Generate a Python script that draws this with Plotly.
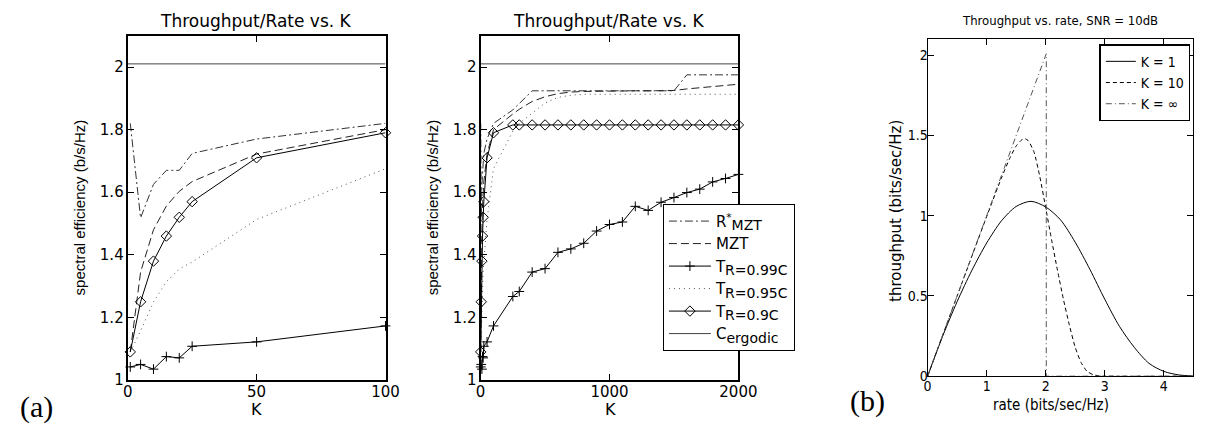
import plotly.graph_objects as go

W, H = 1218, 432

# ---------------- data: panel (a) ----------------
K_all = [1, 5, 10, 15, 20, 25, 50, 100, 250, 300, 400, 500, 600, 700, 800, 900,
         1000, 1100, 1200, 1300, 1400, 1500, 1600, 1700, 1800, 1900, 2000]
R_star_mzt = [1.82, 1.518, 1.625, 1.67, 1.67, 1.724, 1.77, 1.82, 1.863, 1.884,
              1.924, 1.924, 1.924, 1.924, 1.924, 1.924, 1.924, 1.924, 1.924, 1.924,
              1.924, 1.924, 1.975, 1.975, 1.975, 1.975, 1.975]
mzt = [1.09, 1.345, 1.48, 1.556, 1.603, 1.634, 1.722, 1.80, 1.85, 1.865,
       1.89, 1.905, 1.915, 1.92, 1.922, 1.923, 1.924, 1.924, 1.924, 1.924,
       1.924, 1.925, 1.93, 1.934, 1.938, 1.942, 1.945]
t_099 = [1.042, 1.05, 1.035, 1.075, 1.071, 1.108, 1.122, 1.173, 1.267, 1.283,
         1.345, 1.356, 1.408, 1.419, 1.437, 1.476, 1.497, 1.505, 1.555, 1.542,
         1.568, 1.583, 1.599, 1.61, 1.633, 1.644, 1.657]
t_095 = [1.09, 1.157, 1.25, 1.314, 1.355, 1.377, 1.513, 1.675, 1.795, 1.82,
         1.852, 1.885, 1.903, 1.91, 1.913, 1.913, 1.913, 1.913, 1.913, 1.913,
         1.913, 1.913, 1.913, 1.913, 1.913, 1.913, 1.913]
t_090 = [1.09, 1.25, 1.38, 1.46, 1.52, 1.57, 1.71, 1.79, 1.815, 1.815,
         1.815, 1.815, 1.815, 1.815, 1.815, 1.815, 1.815, 1.815, 1.815, 1.815,
         1.815, 1.815, 1.815, 1.815, 1.815, 1.815, 1.815]
C_ergodic = 2.01
N_LEFT = 8          # left panel shows K = 1 .. 100
K_MAX_LEFT = 100
K_MAX_RIGHT = 2000

SUB = "<sub><span style='font-size:14px'>{}</span></sub>"
legend_names = ["R<sup>*</sup>" + SUB.format("MZT"), "MZT",
                "T" + SUB.format("R=0.99C"), "T" + SUB.format("R=0.95C"),
                "T" + SUB.format("R=0.9C"), "C" + SUB.format("ergodic")]

# ---------------- data: panel (b) ----------------
rate_k1 = [0, 0.25, 0.5, 0.75, 1.0, 1.25, 1.5, 1.75, 2.0, 2.25, 2.5, 2.75,
           3.0, 3.25, 3.5, 3.75, 4.0, 4.25, 4.5]
thr_k1 = [0, 0.245, 0.465, 0.66, 0.83, 0.968, 1.058, 1.09, 1.055, 0.975, 0.835,
          0.665, 0.48, 0.31, 0.18, 0.08, 0.03, 0.008, 0.001]
rate_k10 = [0, 0.5, 1.0, 1.25, 1.4, 1.5, 1.6, 1.65, 1.7, 1.8, 1.9, 2.0, 2.1,
            2.2, 2.3, 2.4, 2.5, 2.6, 2.7, 2.8, 2.9, 3.0, 4.5]
thr_k10 = [0, 0.5, 0.995, 1.235, 1.365, 1.435, 1.475, 1.48, 1.47, 1.40, 1.245,
           1.05, 0.85, 0.66, 0.48, 0.32, 0.18, 0.085, 0.03, 0.01, 0.002, 0, 0]
rate_kinf = [0, 2.01, 2.01, 4.5]
thr_kinf = [0, 2.01, 0, 0]
legend_b = ["K = 1", "K = 10", "K = \u221e"]

# ---------------- styling helpers ----------------
FA = "DejaVu Sans"
FA_ROT = "Liberation Sans, Arial"
FB = "Liberation Sans Narrow, Arial Narrow, DejaVu Sans Condensed, Liberation Sans"
BLK = "black"

def px_x(p):
    return p / W

def px_y(p):
    return 1 - p / H

fig = go.Figure()

def add_panel_a(xa, ya, n, kmax, show):
    k = K_all[:n]
    styles = [
        dict(y=R_star_mzt[:n], dash="8px,3px,2px,3px", color="#333", marker=None),
        dict(y=mzt[:n], dash="8px,4px", color="#222", marker=None),
        dict(y=t_099[:n], dash="solid", color=BLK,
             marker=dict(symbol="cross-thin", size=7, line=dict(width=1, color=BLK))),
        dict(y=t_095[:n], dash="1px,4px", color="#555", marker=None),
        dict(y=t_090[:n], dash="solid", color=BLK,
             marker=dict(symbol="diamond-open", size=8, color=BLK, line=dict(width=1, color=BLK))),
    ]
    for name, s in zip(legend_names[:5], styles):
        mode = "lines+markers" if s["marker"] else "lines"
        tr = go.Scatter(x=k, y=s["y"], mode=mode, name=name, xaxis=xa, yaxis=ya,
                        line=dict(color=s["color"], width=1, dash=s["dash"]),
                        showlegend=show, cliponaxis=False, legend="legend")
        if s["marker"]:
            tr.marker = s["marker"]
        fig.add_trace(tr)
    fig.add_trace(go.Scatter(x=[0, kmax], y=[C_ergodic, C_ergodic], mode="lines",
                             name=legend_names[5], xaxis=xa, yaxis=ya,
                             line=dict(color="#444", width=1), showlegend=show,
                             legend="legend"))

add_panel_a("x", "y", N_LEFT, K_MAX_LEFT, False)
add_panel_a("x2", "y2", len(K_all), K_MAX_RIGHT, True)

fig.add_trace(go.Scatter(x=rate_k1, y=thr_k1, mode="lines", name=legend_b[0],
                         xaxis="x3", yaxis="y3", line=dict(color=BLK, width=1, shape="spline", smoothing=0.8),
                         legend="legend2"))
fig.add_trace(go.Scatter(x=rate_k10, y=thr_k10, mode="lines", name=legend_b[1],
                         xaxis="x3", yaxis="y3", line=dict(color=BLK, width=1, dash="4px,3px", shape="spline", smoothing=0.6),
                         legend="legend2"))
fig.add_trace(go.Scatter(x=rate_kinf, y=thr_kinf, mode="lines", name=legend_b[2],
                         xaxis="x3", yaxis="y3", line=dict(color="#555", width=1, dash="6px,3px,1px,3px"),
                         legend="legend2"))

ax_a = dict(showline=True, linecolor=BLK, linewidth=2, mirror="ticks", ticks="inside",
            ticklen=6, tickwidth=1, tickcolor=BLK, showgrid=False, zeroline=False,
            tickfont=dict(family=FA, size=15, color=BLK))
ax_b = dict(showline=True, linecolor=BLK, linewidth=1.3, mirror="ticks", ticks="inside",
            ticklen=6, tickwidth=1, tickcolor=BLK, showgrid=False, zeroline=False,
            tickfont=dict(family=FB, size=14, color=BLK))

ydom_a = [px_y(380), px_y(28.3)]
ydom_b = [px_y(376), px_y(32)]

fig.update_layout(
    width=W, height=H, margin=dict(l=0, r=0, t=0, b=0),
    paper_bgcolor="white", plot_bgcolor="white",
    xaxis=dict(ax_a, domain=[px_x(117), px_x(380)], range=[0, 100], tickvals=[0, 50, 100],
               anchor="y", ticklabelstandoff=-3),
    yaxis=dict(ax_a, domain=ydom_a, range=[1, 2.1], tickvals=[1, 1.2, 1.4, 1.6, 1.8, 2],
               ticktext=["1", "1.2", "1.4", "1.6", "1.8", "2"], anchor="x", ticklabelstandoff=-1),
    xaxis2=dict(ax_a, domain=[px_x(477), px_x(740)], range=[0, 2000], tickvals=[0, 1000, 2000],
                anchor="y2", ticklabelstandoff=-3),
    yaxis2=dict(ax_a, domain=ydom_a, range=[1, 2.1], tickvals=[1, 1.2, 1.4, 1.6, 1.8, 2],
                ticktext=["1", "1.2", "1.4", "1.6", "1.8", "2"], anchor="x2", ticklabelstandoff=-1),
    xaxis3=dict(ax_b, domain=[px_x(933), px_x(1204)], range=[0, 4.5], tickvals=[0, 1, 2, 3, 4],
                anchor="y3", ticklabelstandoff=-3),
    yaxis3=dict(ax_b, domain=ydom_b, range=[0, 2.1], tickvals=[0, 0.5, 1, 1.5, 2],
                ticktext=["0", "0.5", "1", "1.5", "2"], anchor="x3", ticklabelstandoff=-4),
    legend=dict(x=px_x(663), y=px_y(200), xanchor="left", yanchor="top",
                bordercolor=BLK, borderwidth=1, bgcolor="white",
                font=dict(family=FA, size=15, color=BLK), itemwidth=42, tracegroupgap=0),
    legend2=dict(x=px_x(1201), y=px_y(37), xanchor="right", yanchor="top",
                 bordercolor=BLK, borderwidth=1.5, bgcolor="white",
                 font=dict(family=FB, size=14, color=BLK), itemwidth=30, tracegroupgap=0),
)

def ann(text, x, y, family, size, angle=0):
    fig.add_annotation(text=text, x=px_x(x), y=px_y(y), xref="paper", yref="paper",
                       xanchor="center", yanchor="middle", showarrow=False, textangle=angle,
                       font=dict(family=family, size=size, color=BLK))

ann("Throughput/Rate vs. K", 248, 13, FA, 17)
ann("Throughput/Rate vs. K", 608, 13, FA, 17)
ann("Throughput vs. rate, SNR = 10dB", 1068, 13, FB, 13)
ann("spectral efficiency (b/s/Hz)", 68, 204, FA_ROT, 15, -90)
ann("spectral efficiency (b/s/Hz)", 428, 204, FA_ROT, 15, -90)
ann("throughput (bits/sec/Hz)", 900, 207, FA, 15, -90)
ann("K", 248, 410, FA, 16)
ann("K", 609, 410, FA, 16)
ann("rate (bits/sec/Hz)", 1059, 405, FB, 15)
ann("(a)", 24, 407, "Liberation Serif, Times New Roman", 30)
ann("(b)", 872, 401, "Liberation Serif, Times New Roman", 30)

fig.write_html("out.html")
